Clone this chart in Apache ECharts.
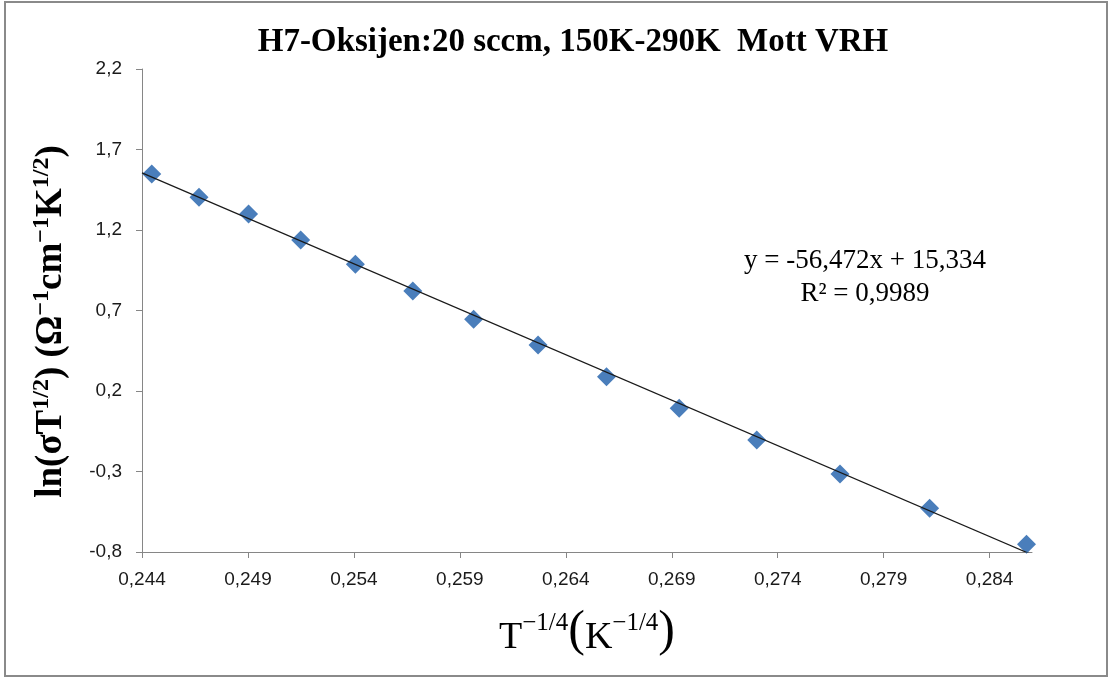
<!DOCTYPE html>
<html>
<head>
<meta charset="utf-8">
<title>H7-Oksijen Mott VRH</title>
<script src="https://cdn.jsdelivr.net/npm/echarts@6/dist/echarts.min.js"></script>
<style>
  html, body { margin: 0; padding: 0; background: #ffffff; }
  #chart { width: 1112px; height: 684px; }
</style>
</head>
<body>
<div id="chart"></div>
<script>
// Measured points: x = T^(-1/4), y = ln(sigma * T^(1/2))
const xValues = [0.24446, 0.24669, 0.24903, 0.25149, 0.25407, 0.25678, 0.25965,
                 0.26269, 0.26592, 0.26935, 0.27301, 0.27694, 0.28117, 0.28574];
const yValues = [1.548, 1.403, 1.299, 1.138, 0.987, 0.821, 0.645,
                 0.486, 0.289, 0.093, -0.104, -0.316, -0.529, -0.752];

// Linear trend line coefficients and fit quality
const fitSlope = -56.472;
const fitIntercept = 15.334;
const fitR2 = 0.9989;

// Axis tick values
const xTicks = [0.244, 0.249, 0.254, 0.259, 0.264, 0.269, 0.274, 0.279, 0.284];
const yTicks = [-0.8, -0.3, 0.2, 0.7, 1.2, 1.7, 2.2];
const xRange = [0.244, 0.286];
const yRange = [-0.8, 2.2];

const comma = (v, d) => v.toFixed(d).replace('.', ',');

const points = xValues.map((x, i) => [x, yValues[i]]);
const trend = xRange.map(x => [x, fitSlope * x + fitIntercept]);

const axisGrey = '#868686';
const labelFont = "'Liberation Sans Narrow', 'Liberation Sans', sans-serif";
const mathFont = "'Liberation Serif', 'DejaVu Serif', serif";

const chart = echarts.init(document.getElementById('chart'), null, { renderer: 'canvas' });

chart.setOption({
  animation: false,
  backgroundColor: '#ffffff',
  title: {
    text: 'H7-Oksijen:20 sccm, 150K-290K  Mott VRH',
    left: 568,
    textAlign: 'center',
    top: 21,
    textStyle: { fontFamily: mathFont, fontWeight: 'bold', fontSize: 33, color: '#000000' }
  },
  grid: { left: 142, top: 69, right: 80, bottom: 132, containLabel: false },
  xAxis: {
    type: 'value',
    min: xRange[0],
    max: xRange[1],
    splitLine: { show: false },
    axisLine: { show: true, onZero: false, lineStyle: { color: axisGrey, width: 1 } },
    axisTick: { show: true, customValues: xTicks, length: 6, lineStyle: { color: axisGrey } },
    axisLabel: {
      customValues: xTicks,
      formatter: v => comma(v, 3),
      fontFamily: labelFont, fontSize: 19, color: '#1a1a1a', margin: 18
    },
    name: '{b|T}{s|−1/4}{p|(}{b|K}{s|−1/4}{p|)}',
    nameLocation: 'middle',
    nameGap: 55,
    nameTextStyle: {
      rich: {
        b: { fontFamily: mathFont, fontSize: 38, color: '#000', lineHeight: 50, verticalAlign: 'bottom' },
        s: { fontFamily: mathFont, fontSize: 25, color: '#000', lineHeight: 50, verticalAlign: 'top', padding: [4, 0, 0, 0] },
        p: { fontFamily: mathFont, fontSize: 50, color: '#000', lineHeight: 50, verticalAlign: 'bottom' }
      }
    }
  },
  yAxis: {
    type: 'value',
    min: yRange[0],
    max: yRange[1],
    splitLine: { show: false },
    axisLine: { show: true, onZero: false, lineStyle: { color: axisGrey, width: 1 } },
    axisTick: { show: true, customValues: yTicks, length: 6, lineStyle: { color: axisGrey } },
    axisLabel: {
      customValues: yTicks,
      formatter: v => comma(v, 1),
      fontFamily: labelFont, fontSize: 19, color: '#1a1a1a', margin: 20
    },
    name: '{b|ln(σT}{s|1/2}{b|) (Ω}{s|−1}{b|cm}{s|−1}{b|K}{s|1/2}{b|)}',
    nameLocation: 'middle',
    nameRotate: 90,
    nameGap: 72,
    nameTextStyle: {
      padding: [0, 22, 0, 0],
      rich: {
        b: { fontFamily: mathFont, fontWeight: 'bold', fontSize: 37, color: '#000', lineHeight: 40, verticalAlign: 'bottom' },
        s: { fontFamily: mathFont, fontWeight: 'bold', fontSize: 24, color: '#000', lineHeight: 40, verticalAlign: 'top', padding: [0, 0, 0, 0] }
      }
    }
  },
  graphic: [
    {
      type: 'rect',
      shape: { x: 5, y: 2, width: 1102, height: 674 },
      style: { fill: 'none', stroke: '#8a8a8a', lineWidth: 2 },
      silent: true,
      z: 100
    },
    {
      type: 'text',
      x: 865,
      y: 277,
      style: {
        text: 'y = ' + comma(fitSlope, 3) + 'x + ' + comma(fitIntercept, 3) + '\nR² = ' + comma(fitR2, 4),
        fontFamily: mathFont,
        fontSize: 27,
        lineHeight: 33,
        fill: '#000000',
        align: 'center',
        verticalAlign: 'middle'
      }
    }
  ],
  series: [
    {
      name: 'ln(σT^1/2)',
      type: 'scatter',
      data: points,
      symbol: 'diamond',
      symbolSize: 19,
      itemStyle: { color: '#4A7EBB', opacity: 1 },
      z: 2
    },
    {
      name: 'Linear fit',
      type: 'line',
      data: trend,
      symbol: 'none',
      clip: true,
      lineStyle: { color: '#1a1a1a', width: 1.2 },
      z: 3
    }
  ]
});
</script>
</body>
</html>
